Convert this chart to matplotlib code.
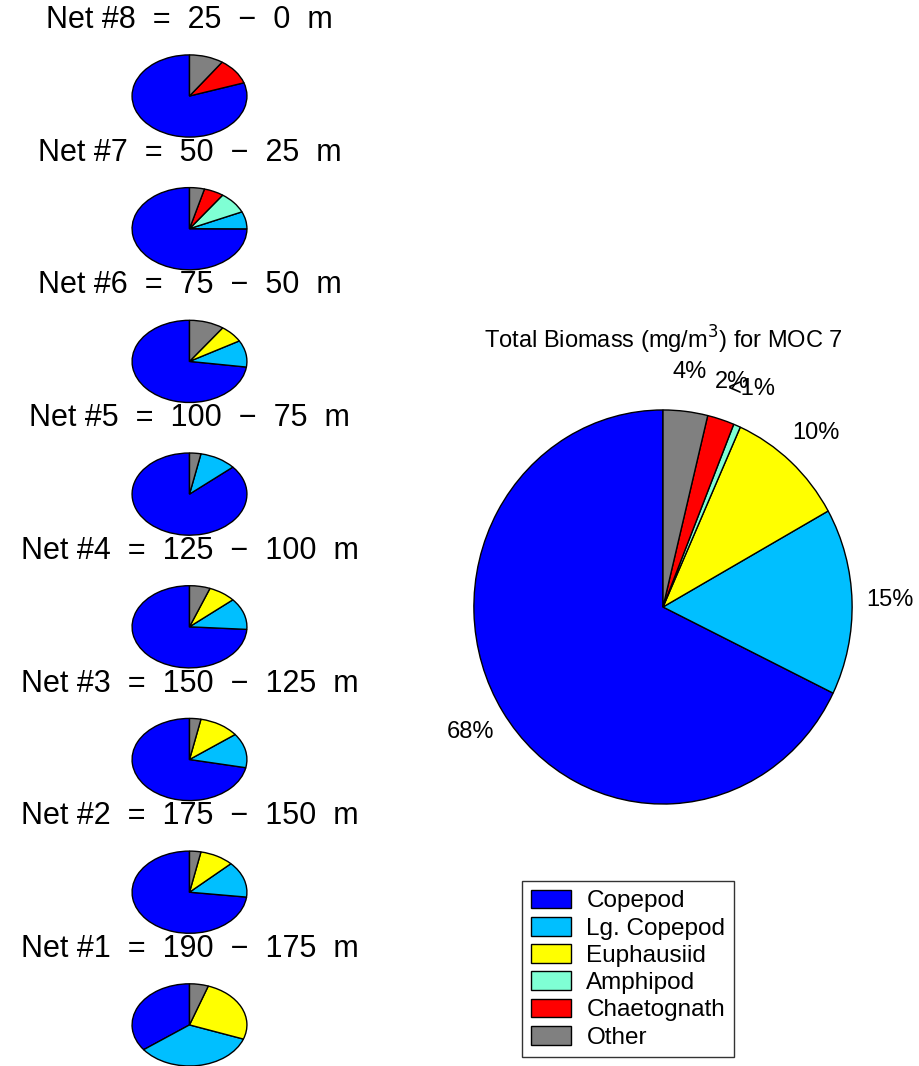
import numpy as np
import matplotlib.pyplot as plt
from matplotlib.patches import Patch

plt.rcParams['font.family'] = ['Liberation Sans', 'DejaVu Sans']

# species / colours
species = ['Copepod', 'Lg. Copepod', 'Euphausiid', 'Amphipod', 'Chaetognath', 'Other']
colors = ['#0000ff', '#00bfff', '#ffff00', '#7fffd4', '#ff0000', '#808080']

# percent of biomass per net (top to bottom: net 8 ... net 1)
net_ids = [8, 7, 6, 5, 4, 3, 2, 1]
depth_top = [25, 50, 75, 100, 125, 150, 175, 190]
depth_bot = [0, 25, 50, 75, 100, 125, 150, 175]
net8 = [80.2, 0, 0, 0, 10.2, 9.6]
net7 = [75.0, 6.8, 0, 8.5, 5.6, 4.2]
net6 = [72.8, 10.5, 6.9, 0, 0, 9.8]
net5 = [86.4, 10.4, 0, 0, 0, 3.2]
net4 = [74.0, 12.4, 7.8, 0, 0, 5.8]
net3 = [71.8, 13.6, 11.4, 0, 0, 3.2]
net2 = [73.1, 14.1, 9.6, 0, 0, 3.2]
net1 = [35.3, 34.1, 25.3, 0, 0, 5.3]
nets = [net8, net7, net6, net5, net4, net3, net2, net1]

total = [67.8, 15.3, 10.2, 0.6, 2.3, 3.8]
total_labels = ['68%', '15%', '10%', '<1%', '2%', '4%']

W, H = 920, 1066
fig = plt.figure(figsize=(W / 100, H / 100), dpi=100)


def px_axes(cx, cy, rx, ry):
    # axes in pixel coords (y from top), circle of radius 1 fills it
    ax = fig.add_axes([(cx - rx) / W, 1 - (cy + ry) / H, 2 * rx / W, 2 * ry / H])
    return ax


def draw_pie(ax, vals, labels=None, ldist=1.2, fs=17):
    v = [x for x in vals if x > 0]
    c = [colors[i] for i, x in enumerate(vals) if x > 0]
    lab = None
    if labels is not None:
        lab = [labels[i] for i, x in enumerate(vals) if x > 0]
    res = ax.pie(v, colors=c, startangle=90, counterclock=True, labels=lab,
                 labeldistance=ldist, textprops={'fontsize': fs},
                 wedgeprops={'edgecolor': 'black', 'linewidth': 1.0})
    if labels is not None:
        for t in res[1]:
            t.set_ha('center')
            t.set_va('center')
    ax.set_aspect('auto')
    ax.set_xlim(-1.01, 1.01)
    ax.set_ylim(-1.01, 1.01)
    ax.axis('off')


for i, vals in enumerate(nets):
    cy = 96 + i * 132.7
    ax = px_axes(189.5, cy, 58, 41.5)
    draw_pie(ax, vals)
    fig.text(189.5 / W, 1 - (cy - 76) / H,
             'Net #%d  =  %d  \u2212  %d  m' % (net_ids[i], depth_top[i], depth_bot[i]),
             ha='center', va='center', fontsize=22)

# big pie
axb = px_axes(663, 607, 191, 199)
draw_pie(axb, total, total_labels, ldist=1.2, fs=17)
fig.text(663 / W, 1 - 340 / H, 'Total Biomass (mg/m$^3$) for MOC 7',
         ha='center', va='center', fontsize=17)

handles = [Patch(facecolor=colors[i], edgecolor='black', label=species[i])
           for i in range(len(species))]
leg = fig.legend(handles=handles, loc='upper left',
                 bbox_to_anchor=(522 / W, 1 - 881 / H), fontsize=17.5,
                 frameon=True, fancybox=False, handlelength=1.65, handleheight=0.82,
                 labelspacing=0.18, handletextpad=0.65, borderpad=0.35,
                 borderaxespad=0)
leg.get_frame().set_edgecolor('black')
leg.get_frame().set_linewidth(1.0)

fig.savefig('out.png', dpi=100)
